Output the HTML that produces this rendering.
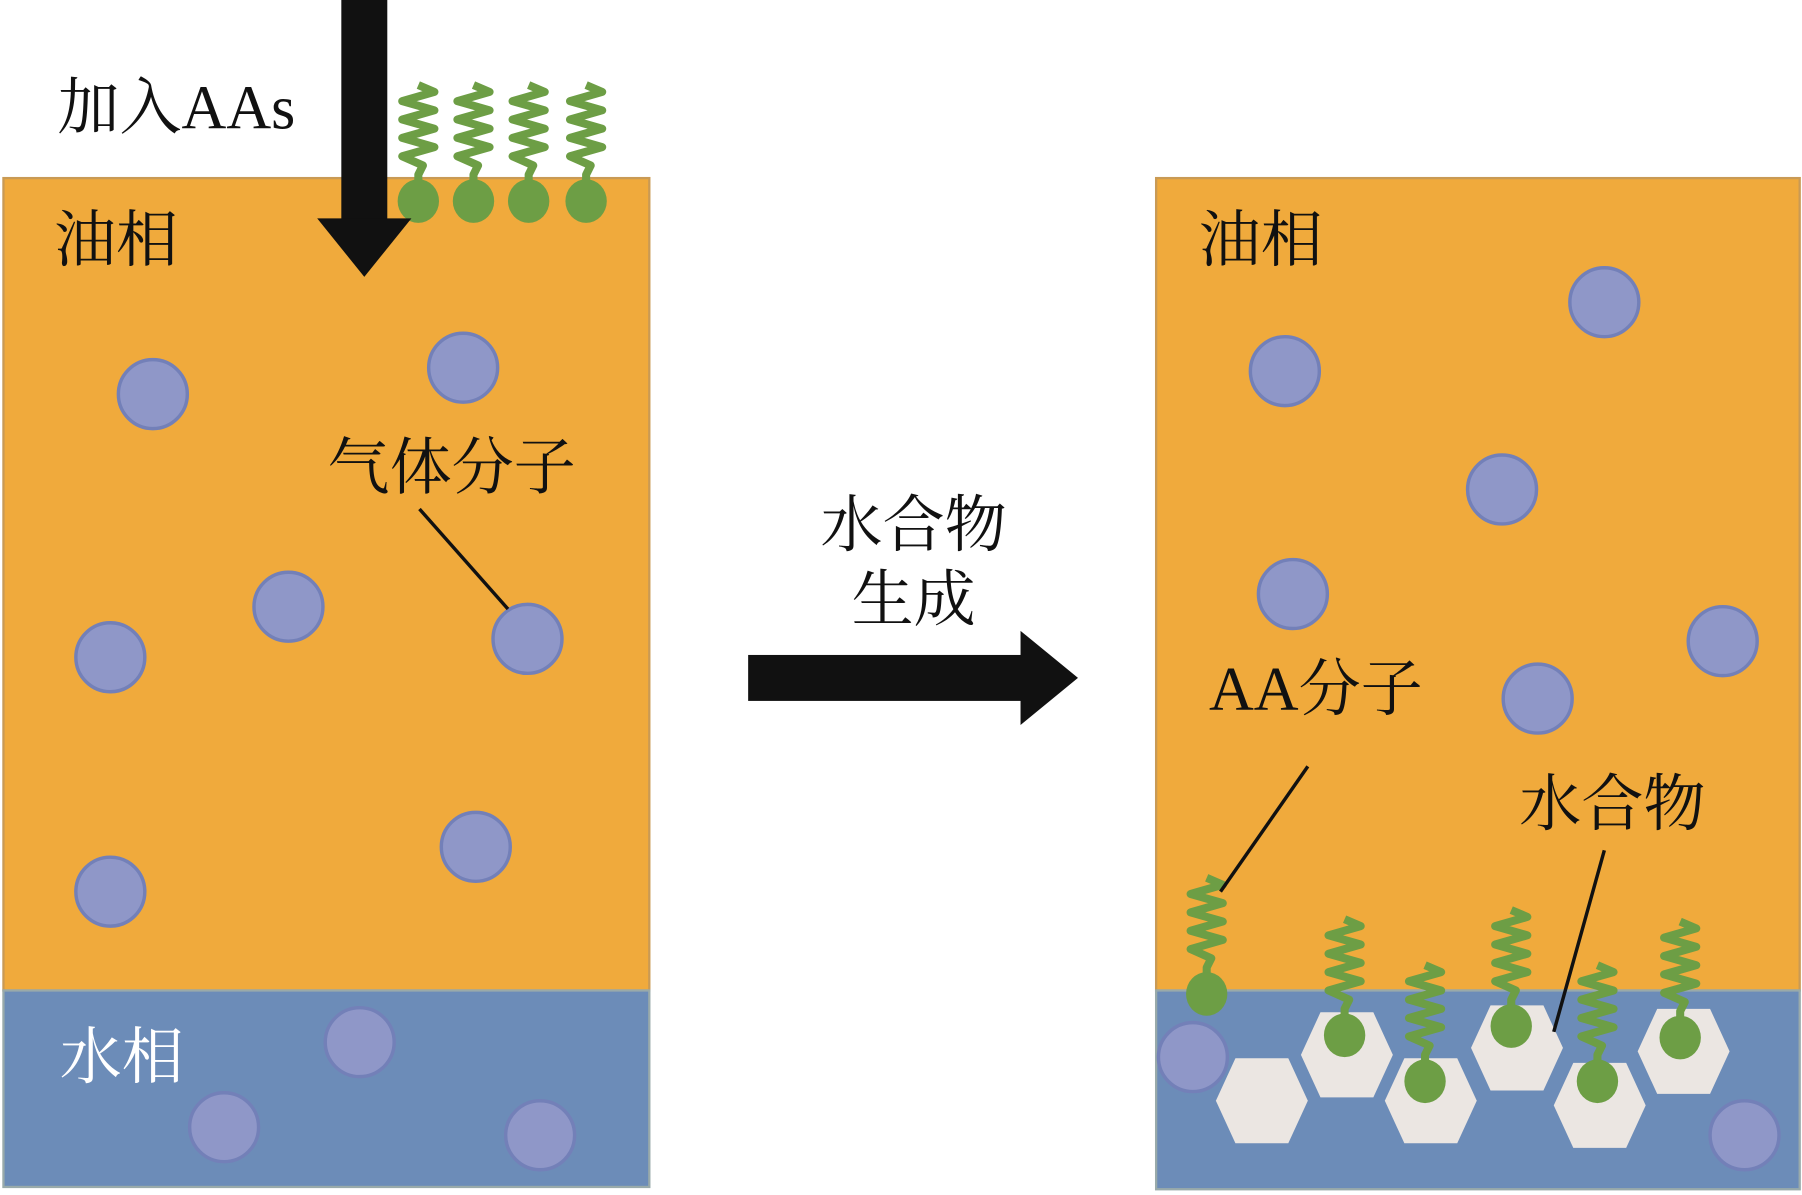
<!DOCTYPE html>
<html><head><meta charset="utf-8"><style>html,body{margin:0;padding:0;background:#fff}svg{display:block}
text{font-family:"Liberation Serif","Noto Serif CJK SC","Noto Sans CJK SC",serif;fill:#111}</style></head>
<body>
<svg width="1802" height="1195" viewBox="0 0 1568 1040" preserveAspectRatio="none" xmlns="http://www.w3.org/2000/svg">
<defs>
<g id="aa">
<polyline points="0,2 14,8 -14,16 14,24 -14,32 14,40 -14,48 14,56 -14,64 4,72 0,80 0,95" fill="none" stroke="#6d9e45" stroke-width="7" stroke-linejoin="round"/>
<ellipse cx="0" cy="103" rx="18" ry="19" fill="#6d9e45"/>
</g>
<g id="gas"><circle r="30" fill="#8f97c8" stroke="#7380b8" stroke-width="3"/></g>
<polygon id="hex" points="-23,-37 23,-37 40,0 23,37 -23,37 -40,0" fill="#ebe6e2"/>
</defs>

<rect x="3" y="155" width="562" height="707" fill="#f0aa3c" stroke="#c99a55" stroke-width="2"/>
<rect x="3" y="862" width="562" height="171" fill="#6c8cb8" stroke="#9aa" stroke-width="2"/>
<use href="#aa" x="364" y="72"/><use href="#aa" x="412" y="72"/><use href="#aa" x="460" y="72"/><use href="#aa" x="510" y="72"/>
<use href="#gas" x="133" y="343"/><use href="#gas" x="403" y="320"/><use href="#gas" x="251" y="528"/>
<use href="#gas" x="96" y="572"/><use href="#gas" x="459" y="556"/><use href="#gas" x="414" y="737"/><use href="#gas" x="96" y="776"/>
<use href="#gas" x="313" y="907"/><use href="#gas" x="195" y="981"/><use href="#gas" x="470" y="988"/>
<rect x="297" y="0" width="40" height="192" fill="#111"/>
<polygon points="276,190 358,190 317,241" fill="#111"/>
<text x="50" y="112" font-size="54">加入AAs</text>
<text x="47" y="227" font-size="54">油相</text>
<text x="285" y="425" font-size="54">气体分子</text>
<line x1="365" y1="443" x2="442" y2="530" stroke="#111" stroke-width="3"/>
<text x="52" y="938" font-size="54" style="fill:#fff">水相</text>

<text x="795" y="475" font-size="54" text-anchor="middle">水合物</text>
<text x="795" y="540" font-size="54" text-anchor="middle">生成</text>
<rect x="651" y="570" width="240" height="40" fill="#111"/>
<polygon points="888,549 888,631 938,590" fill="#111"/>

<rect x="1006" y="155" width="560" height="707" fill="#f0aa3c" stroke="#c99a55" stroke-width="2"/>
<rect x="1006" y="862" width="560" height="173" fill="#6c8cb8" stroke="#9aa" stroke-width="2"/>
<use href="#hex" x="1098" y="958"/><use href="#hex" x="1172" y="918"/><use href="#hex" x="1245" y="958"/>
<use href="#hex" x="1320" y="912"/><use href="#hex" x="1392" y="962"/><use href="#hex" x="1465" y="915"/>
<use href="#aa" x="1050" y="762"/><use href="#aa" x="1170" y="798"/><use href="#aa" x="1240" y="838"/>
<use href="#aa" x="1315" y="790"/><use href="#aa" x="1390" y="838"/><use href="#aa" x="1462" y="800"/>
<use href="#gas" x="1396" y="263"/><use href="#gas" x="1118" y="323"/><use href="#gas" x="1307" y="426"/>
<use href="#gas" x="1125" y="517"/><use href="#gas" x="1499" y="558"/><use href="#gas" x="1338" y="608"/>
<use href="#gas" x="1038" y="920"/><use href="#gas" x="1518" y="988"/>
<text x="1043" y="227" font-size="54">油相</text>
<text x="1052" y="618" font-size="54">AA分子</text>
<line x1="1138" y1="667" x2="1062" y2="776" stroke="#111" stroke-width="3"/>
<text x="1322" y="718" font-size="54">水合物</text>
<line x1="1396" y1="740" x2="1352" y2="898" stroke="#111" stroke-width="3"/>
</svg>
</body></html>
